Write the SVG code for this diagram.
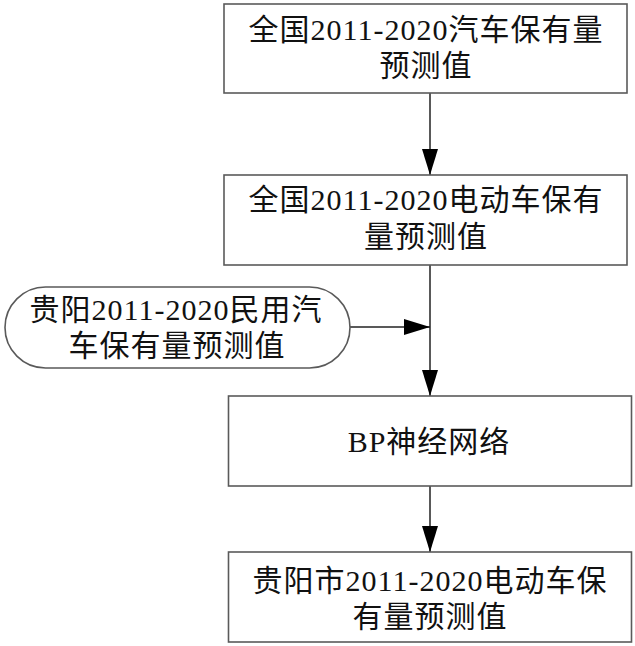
<svg xmlns="http://www.w3.org/2000/svg" width="635" height="646" viewBox="0 0 635 646">
<style>
.box{fill:#fff;stroke:#5a5a5a;stroke-width:1.6}
.lbl{font-family:"Liberation Serif","Noto Sans CJK SC",serif;font-size:30px;fill:#111;text-anchor:middle;letter-spacing:1px}
.con{stroke:#222;stroke-width:1.5;fill:none}
</style>
<defs>
<marker id="arr" viewBox="0 0 26 16" refX="26" refY="8" markerWidth="26" markerHeight="16" markerUnits="userSpaceOnUse" orient="auto">
<path d="M0,0 L26,8 L0,16 Z" fill="#000"/>
</marker>
</defs>
<rect width="635" height="646" fill="#fff"/>
<g id="connectors">
<line class="con" x1="430" y1="93" x2="430" y2="175" marker-end="url(#arr)"/>
<line class="con" x1="430" y1="265" x2="430" y2="396" marker-end="url(#arr)"/>
<line class="con" x1="350" y1="327" x2="430" y2="327" marker-end="url(#arr)"/>
<line class="con" x1="430" y1="486" x2="430" y2="552" marker-end="url(#arr)"/>
</g>
<g id="node1">
<rect class="box" x="224" y="4" width="403" height="89"/>
<text class="lbl" x="426" y="40">全国2011-2020汽车保有量</text>
<text class="lbl" x="426" y="76">预测值</text>
</g>
<g id="node2">
<rect class="box" x="224" y="175" width="403" height="90"/>
<text class="lbl" x="426" y="210">全国2011-2020电动车保有</text>
<text class="lbl" x="426" y="247">量预测值</text>
</g>
<g id="node3">
<rect class="box" x="5" y="287" width="345" height="81" rx="40.5" ry="40.5"/>
<text class="lbl" x="176" y="320">贵阳2011-2020民用汽</text>
<text class="lbl" x="177" y="356">车保有量预测值</text>
</g>
<g id="node4">
<rect class="box" x="228.5" y="396" width="403" height="90"/>
<text class="lbl" x="429" y="452">BP神经网络</text>
</g>
<g id="node5">
<rect class="box" x="228.5" y="552" width="403" height="90"/>
<text class="lbl" x="430" y="591">贵阳市2011-2020电动车保</text>
<text class="lbl" x="430" y="627">有量预测值</text>
</g>
</svg>
